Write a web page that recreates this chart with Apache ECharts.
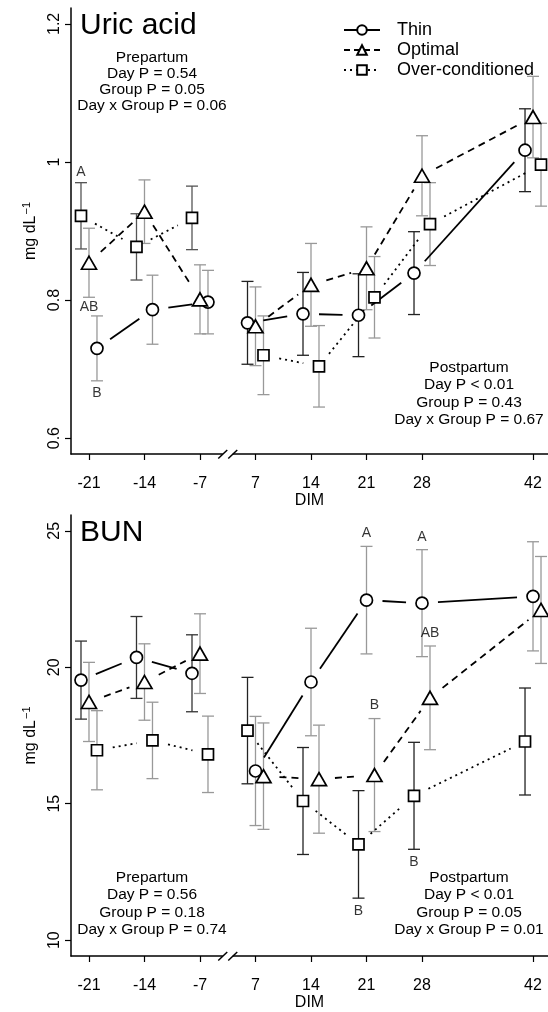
<!DOCTYPE html>
<html><head><meta charset="utf-8">
<script src="https://cdn.jsdelivr.net/npm/echarts@6/dist/echarts.min.js"></script>
<style>html,body{margin:0;padding:0;background:#fff}#c{width:548px;height:1012px}</style>
</head><body><div id="c"></div>
<script>
// ---------- data ----------
const days = [-21, -14, -7, 7, 14, 21, 28, 42];
const tickLabels = ['-21', '-14', '-7', '7', '14', '21', '28', '42'];
const groups = ['Thin', 'Optimal', 'Over-conditioned'];

const uricThin   = [0.730, 0.786, 0.797, 0.767, 0.780, 0.778, 0.839, 1.017];
const uricThinSE = [0.047, 0.050, 0.046, 0.060, 0.060, 0.060, 0.060, 0.060];
const uricOpt    = [0.854, 0.928, 0.801, 0.762, 0.822, 0.846, 0.980, 1.065];
const uricOptSE  = [0.050, 0.046, 0.050, 0.057, 0.060, 0.060, 0.058, 0.059];
const uricOver   = [0.922, 0.877, 0.919, 0.720, 0.704, 0.804, 0.910, 0.996];
const uricOverSE = [0.048, 0.048, 0.046, 0.057, 0.059, 0.059, 0.060, 0.060];

const bunThin   = [19.53, 20.36, 19.78, 16.20, 19.46, 22.46, 22.35, 22.60];
const bunThinSE = [1.43, 1.50, 1.41, 2.00, 1.97, 1.97, 1.96, 2.00];
const bunOpt    = [18.73, 19.46, 20.50, 16.01, 15.90, 16.05, 18.88, 22.10];
const bunOptSE  = [1.45, 1.40, 1.46, 1.95, 1.98, 2.07, 1.90, 1.96];
const bunOver   = [16.96, 17.32, 16.81, 17.68, 15.10, 13.51, 15.29, 17.28];
const bunOverSE = [1.45, 1.40, 1.40, 1.95, 1.96, 1.97, 1.96, 1.96];

const uricTicks = [0.6, 0.8, 1.0, 1.2];
const bunTicks = [10, 15, 20, 25];

const uricLetters = [
  { text: 'A',  group: 2, day: -21, side: 'above' },
  { text: 'AB', group: 1, day: -21, side: 'below' },
  { text: 'B',  group: 0, day: -21, side: 'below' }
];
const bunLetters = [
  { text: 'A',  group: 0, day: 21, side: 'above' },
  { text: 'A',  group: 0, day: 28, side: 'above' },
  { text: 'AB', group: 1, day: 28, side: 'above' },
  { text: 'B',  group: 1, day: 21, side: 'above' },
  { text: 'B',  group: 2, day: 28, side: 'below' },
  { text: 'B',  group: 2, day: 21, side: 'below' }
];
const uricPre  = ['Prepartum', 'Day P = 0.54', 'Group P = 0.05', 'Day x Group P = 0.06'];
const uricPost = ['Postpartum', 'Day P < 0.01', 'Group P = 0.43', 'Day x Group P = 0.67'];
const bunPre   = ['Prepartum', 'Day P = 0.56', 'Group P = 0.18', 'Day x Group P = 0.74'];
const bunPost  = ['Postpartum', 'Day P < 0.01', 'Group P = 0.05', 'Day x Group P = 0.01'];

// ---------- style / layout ----------
const FONT = '"Liberation Sans", Arial, sans-serif';
const pos = d => d < 0 ? (d + 21) / 7 : 2 + d / 7;   // broken axis: -7 and 7 one step apart
const DODGE = 0.144;
const GAP = 16;
const CAP = 6;
const markers = ['circle', 'triangle', 'rect'];
const markerSize = [12, [15, 13], 11];
const dashes = [null, [7, 5], [2, 4]];
const legendDash = ['solid', [6, 4], [2, 4]];
const letterDist = { uric: [4, 3, 5], bun: [6, 6, 6, 6, 6, 6] };

const panels = [
  { key: 'uric', means: [uricThin, uricOpt, uricOver], se: [uricThinSE, uricOptSE, uricOverSE],
    min: 0.577, max: 1.223, ticks: uricTicks, letters: uricLetters, title: 'Uric acid',
    dodge: { pre: [1, 0, -1], post: [-1, 0, 1] },
    errColor: { pre: ['#999', '#999', '#555'], post: ['#222', '#999', '#999'] } },
  { key: 'bun', means: [bunThin, bunOpt, bunOver], se: [bunThinSE, bunOptSE, bunOverSE],
    min: 9.42, max: 25.58, ticks: bunTicks, letters: bunLetters, title: 'BUN',
    dodge: { pre: [-1, 0, 1], post: [0, 1, -1] },
    errColor: { pre: ['#333', '#999', '#999'], post: ['#999', '#999', '#222'] } }
];
const gridTops = [8, 515];
const GRID_H = 446;

const periodOf = i => days[i] < 0 ? 'pre' : 'post';
const xOf = (p, g, i) => pos(days[i]) + p.dodge[periodOf(i)][g] * DODGE;

const grids = [], xAxes = [], yAxes = [], series = [];
panels.forEach((p, pi) => {
  grids.push({ left: 71, right: 0, top: gridTops[pi], height: GRID_H });
  xAxes.push({
    type: 'value', gridIndex: pi, min: -0.324, max: 8.27,
    name: 'DIM', nameLocation: 'middle', nameGap: 39,
    nameTextStyle: { fontFamily: FONT, fontSize: 16, color: '#000' },
    axisLine: { onZero: false, lineStyle: { color: '#000', width: 1.5 } },
    axisTick: { customValues: days.map(pos), length: 6, lineStyle: { color: '#000', width: 1.2 } },
    axisLabel: { customValues: days.map(pos), margin: 22, fontFamily: FONT, fontSize: 16, color: '#000',
      formatter: v => { const i = days.findIndex(d => Math.abs(pos(d) - v) < 1e-6); return i >= 0 ? tickLabels[i] : ''; } },
    splitLine: { show: false }
  });
  yAxes.push({
    type: 'value', gridIndex: pi, min: p.min, max: p.max,
    name: '{a|mg dL}{b|\u22121}', nameLocation: 'middle', nameGap: 31, nameRotate: 90,
    nameTextStyle: { color: '#000', rich: { a: { fontFamily: FONT, fontSize: 16, color: '#000' },
      b: { fontFamily: FONT, fontSize: 11, color: '#000', verticalAlign: 'top', padding: [0, 0, 8, 1] } } },
    axisLine: { show: true, onZero: false, lineStyle: { color: '#000', width: 1.5 } },
    axisTick: { show: true, customValues: p.ticks, length: 6, lineStyle: { color: '#000', width: 1.2 } },
    axisLabel: { customValues: p.ticks, rotate: 90, margin: 8, fontFamily: FONT, fontSize: 16, color: '#000',
      formatter: v => String(+(+v).toFixed(1)) },
    splitLine: { show: false }
  });

  for (let g = 0; g < 3; g++) {
    ['pre', 'post'].forEach(per => {
      const data = [];
      days.forEach((d, i) => { if (periodOf(i) === per) data.push([xOf(p, g, i), p.means[g][i] - p.se[g][i], p.means[g][i] + p.se[g][i]]); });
      const col = p.errColor[per][g];
      series.push({
        type: 'custom', xAxisIndex: pi, yAxisIndex: pi, z: 2, silent: true,
        encode: { x: 0, y: [1, 2] }, data,
        renderItem: (params, api) => {
          const x = api.value(0);
          const a = api.coord([x, api.value(2)]), b = api.coord([x, api.value(1)]);
          const st = { stroke: col, lineWidth: 1.3 };
          return { type: 'group', children: [
            { type: 'line', shape: { x1: a[0], y1: a[1], x2: b[0], y2: b[1] }, style: st },
            { type: 'line', shape: { x1: a[0] - CAP, y1: a[1], x2: a[0] + CAP, y2: a[1] }, style: st },
            { type: 'line', shape: { x1: b[0] - CAP, y1: b[1], x2: b[0] + CAP, y2: b[1] }, style: st }
          ] };
        }
      });
    });
    const segs = [];
    for (let i = 0; i < days.length - 1; i++) {
      if (periodOf(i) !== periodOf(i + 1)) continue;
      segs.push([xOf(p, g, i), p.means[g][i], xOf(p, g, i + 1), p.means[g][i + 1]]);
    }
    const dash = dashes[g];
    series.push({
      type: 'custom', xAxisIndex: pi, yAxisIndex: pi, z: 3, silent: true,
      encode: { x: [0, 2], y: [1, 3] }, data: segs,
      renderItem: (params, api) => {
        const a = api.coord([api.value(0), api.value(1)]), b = api.coord([api.value(2), api.value(3)]);
        const dx = b[0] - a[0], dy = b[1] - a[1], L = Math.hypot(dx, dy);
        if (L <= 2 * GAP + 2) return null;
        const ux = dx / L, uy = dy / L;
        return { type: 'line', shape: { x1: a[0] + ux * GAP, y1: a[1] + uy * GAP, x2: b[0] - ux * GAP, y2: b[1] - uy * GAP },
          style: { stroke: '#000', lineWidth: 1.8, lineDash: dash } };
      }
    });
    series.push({
      type: 'scatter', xAxisIndex: pi, yAxisIndex: pi, z: 5, silent: true,
      symbol: markers[g], symbolSize: markerSize[g],
      itemStyle: { color: '#fff', borderColor: '#000', borderWidth: 1.7, opacity: 1 },
      data: days.map((d, i) => [xOf(p, g, i), p.means[g][i]])
    });
  }
  p.letters.forEach((L, li) => {
    const i = days.indexOf(L.day);
    const yv = L.side === 'above' ? p.means[L.group][i] + p.se[L.group][i] : p.means[L.group][i] - p.se[L.group][i];
    series.push({
      type: 'scatter', xAxisIndex: pi, yAxisIndex: pi, z: 6, silent: true, symbolSize: 0.01,
      data: [[xOf(p, L.group, i), yv]],
      label: { show: true, position: L.side === 'above' ? 'top' : 'bottom', distance: letterDist[p.key][li],
        formatter: L.text, fontFamily: FONT, fontSize: 14, color: '#000' }
    });
  });
  series.push({
    type: 'custom', xAxisIndex: pi, yAxisIndex: pi, z: 10, silent: true, clip: false,
    encode: { x: 0, y: 1 }, data: [[2.5, p.min]],
    renderItem: (params, api) => {
      const c = api.coord([api.value(0), api.value(1)]);
      const st = { stroke: '#000', lineWidth: 1.5 };
      return { type: 'group', children: [
        { type: 'rect', shape: { x: c[0] - 5, y: c[1] - 2, width: 10, height: 4 }, style: { fill: '#fff' } },
        { type: 'line', shape: { x1: c[0] - 9.5, y1: c[1] + 4.5, x2: c[0] - 0.5, y2: c[1] - 4 }, style: st },
        { type: 'line', shape: { x1: c[0] + 0.5, y1: c[1] + 4.5, x2: c[0] + 9.5, y2: c[1] - 4 }, style: st }
      ] };
    }
  });
});

groups.forEach((name, g) => {
  series.push({
    type: 'line', name, xAxisIndex: 0, yAxisIndex: 0, data: [], color: '#000',
    symbol: 'empty' + markers[g].charAt(0).toUpperCase() + markers[g].slice(1), symbolSize: 9,
    lineStyle: { color: '#000', width: 1.5, type: legendDash[g] },
    itemStyle: { color: '#000', borderColor: '#000', borderWidth: 1.5 }
  });
});

const textBlock = (lines, x, y, lh) => ({
  type: 'text', x, y, silent: true,
  style: { text: lines.join('\n'), font: '15.5px ' + FONT, fill: '#000', textAlign: 'center', textVerticalAlign: 'top', lineHeight: lh }
});

const chart = echarts.init(document.getElementById('c'), null, { renderer: 'canvas' });
chart.setOption({
  animation: false,
  backgroundColor: '#fff',
  grid: grids, xAxis: xAxes, yAxis: yAxes, series,
  legend: {
    data: groups, orient: 'vertical', left: 343, top: 21, padding: 0, itemWidth: 36, itemHeight: 12, itemGap: 2,
    selectedMode: false, textStyle: { fontFamily: FONT, fontSize: 18, lineHeight: 18, color: '#000', padding: [0, 0, 0, 12] }
  },
  graphic: [
    { type: 'text', x: 80, y: 26, silent: true, style: { text: panels[0].title, font: '30px ' + FONT, fill: '#000', textVerticalAlign: 'middle' } },
    { type: 'text', x: 80, y: 533, silent: true, style: { text: panels[1].title, font: '30px ' + FONT, fill: '#000', textVerticalAlign: 'middle' } },
    textBlock(uricPre, 152, 50, 16),
    textBlock(uricPost, 469, 359, 17.3),
    textBlock(bunPre, 152, 869, 17.3),
    textBlock(bunPost, 469, 869, 17.3)
  ]
});
</script></body></html>
